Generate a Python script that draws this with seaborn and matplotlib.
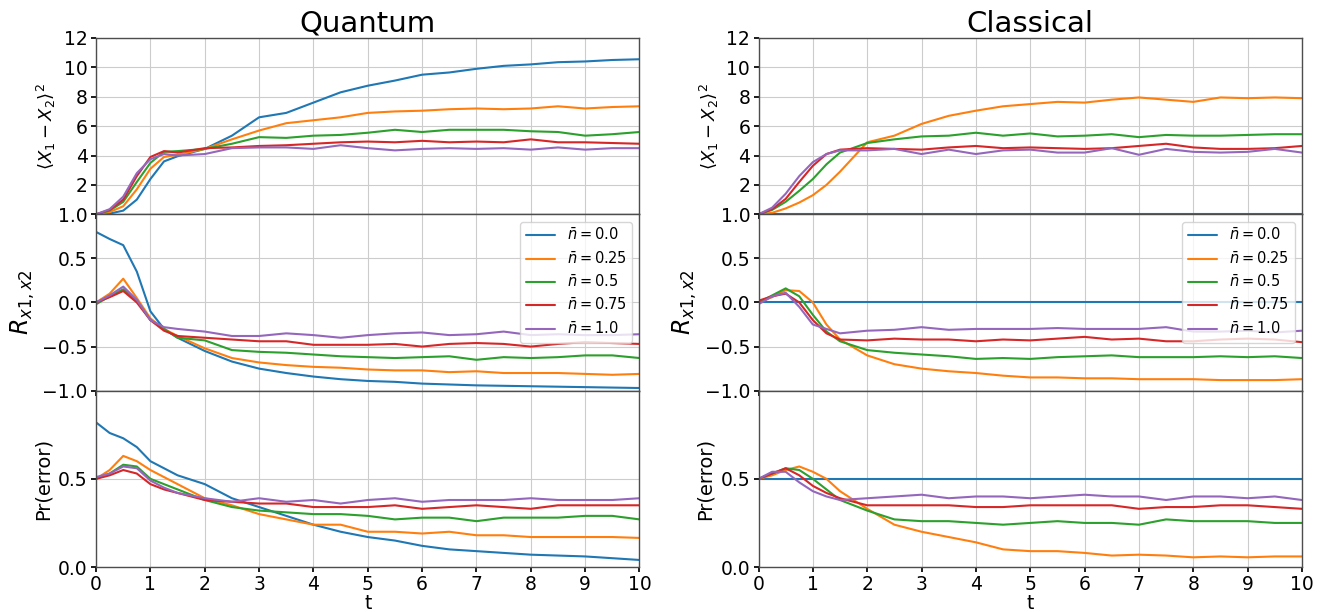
import matplotlib
matplotlib.use("Agg")
import matplotlib.pyplot as plt
import pandas as pd
import seaborn as sns

t = [0, 0.25, 0.5, 0.75, 1, 1.25, 1.5, 2, 2.5, 3, 3.5, 4, 4.5, 5, 5.5, 6, 6.5, 7, 7.5, 8, 8.5, 9, 9.5, 10]
n_bar = ["0.0", "0.25", "0.5", "0.75", "1.0"]

# Quantum: <(X1 - X2)^2>
q_var_n0 = [0, 0.05, 0.25, 1.0, 2.4, 3.6, 3.95, 4.45, 5.35, 6.6, 6.9, 7.6, 8.3, 8.75, 9.1, 9.5, 9.65, 9.9, 10.1, 10.2, 10.35, 10.4, 10.5, 10.55]
q_var_n025 = [0, 0.15, 0.55, 1.7, 3.1, 3.9, 4.05, 4.45, 5.1, 5.7, 6.2, 6.4, 6.6, 6.9, 7.0, 7.05, 7.15, 7.2, 7.15, 7.2, 7.35, 7.2, 7.3, 7.35]
q_var_n05 = [0, 0.25, 0.85, 2.2, 3.5, 4.25, 4.3, 4.45, 4.8, 5.25, 5.2, 5.35, 5.4, 5.55, 5.75, 5.6, 5.75, 5.75, 5.75, 5.65, 5.6, 5.35, 5.45, 5.6]
q_var_n075 = [0, 0.3, 1.0, 2.6, 3.9, 4.3, 4.2, 4.5, 4.55, 4.65, 4.7, 4.8, 4.9, 4.95, 4.9, 5.0, 4.9, 4.95, 4.9, 5.1, 4.9, 4.9, 4.85, 4.8]
q_var_n1 = [0, 0.35, 1.2, 2.8, 3.75, 4.1, 4.0, 4.1, 4.5, 4.55, 4.55, 4.45, 4.7, 4.5, 4.35, 4.45, 4.5, 4.45, 4.5, 4.4, 4.55, 4.4, 4.5, 4.5]

# Quantum: R_{x1,x2}
q_corr_n0 = [0.8, 0.72, 0.65, 0.35, -0.1, -0.3, -0.4, -0.55, -0.67, -0.75, -0.8, -0.84, -0.87, -0.89, -0.9, -0.92, -0.93, -0.94, -0.945, -0.95, -0.955, -0.96, -0.965, -0.97]
q_corr_n025 = [0.0, 0.1, 0.27, 0.05, -0.18, -0.3, -0.38, -0.52, -0.63, -0.68, -0.71, -0.73, -0.74, -0.76, -0.77, -0.77, -0.79, -0.78, -0.8, -0.8, -0.8, -0.81, -0.82, -0.81]
q_corr_n05 = [-0.02, 0.07, 0.15, 0.02, -0.2, -0.3, -0.4, -0.43, -0.54, -0.56, -0.57, -0.59, -0.61, -0.62, -0.63, -0.62, -0.61, -0.65, -0.62, -0.63, -0.62, -0.6, -0.6, -0.63]
q_corr_n075 = [0.0, 0.06, 0.13, 0.0, -0.2, -0.32, -0.38, -0.4, -0.42, -0.44, -0.44, -0.48, -0.48, -0.48, -0.47, -0.5, -0.47, -0.46, -0.47, -0.5, -0.47, -0.45, -0.46, -0.47]
q_corr_n1 = [0.0, 0.08, 0.18, 0.03, -0.2, -0.28, -0.3, -0.33, -0.38, -0.38, -0.35, -0.37, -0.4, -0.37, -0.35, -0.34, -0.37, -0.36, -0.33, -0.37, -0.36, -0.37, -0.37, -0.36]

# Quantum: Pr(error)
q_err_n0 = [0.82, 0.76, 0.73, 0.68, 0.6, 0.56, 0.52, 0.47, 0.39, 0.34, 0.29, 0.24, 0.2, 0.17, 0.15, 0.12, 0.1, 0.09, 0.08, 0.07, 0.065, 0.06, 0.05, 0.04]
q_err_n025 = [0.5, 0.55, 0.63, 0.6, 0.55, 0.51, 0.47, 0.39, 0.35, 0.3, 0.27, 0.24, 0.24, 0.2, 0.2, 0.19, 0.2, 0.18, 0.18, 0.17, 0.17, 0.17, 0.17, 0.165]
q_err_n05 = [0.5, 0.53, 0.58, 0.57, 0.5, 0.47, 0.44, 0.38, 0.34, 0.32, 0.31, 0.3, 0.3, 0.29, 0.27, 0.28, 0.28, 0.26, 0.28, 0.28, 0.28, 0.29, 0.29, 0.27]
q_err_n075 = [0.5, 0.52, 0.55, 0.53, 0.47, 0.44, 0.42, 0.38, 0.37, 0.36, 0.36, 0.34, 0.34, 0.34, 0.35, 0.33, 0.34, 0.35, 0.34, 0.33, 0.35, 0.35, 0.35, 0.35]
q_err_n1 = [0.51, 0.53, 0.57, 0.56, 0.49, 0.45, 0.42, 0.39, 0.37, 0.39, 0.37, 0.38, 0.36, 0.38, 0.39, 0.37, 0.38, 0.38, 0.38, 0.39, 0.38, 0.38, 0.38, 0.39]

# Classical: <(X1 - X2)^2>
c_var_n0 = [0.0] * 24
c_var_n025 = [0, 0.1, 0.4, 0.8, 1.3, 2.0, 2.9, 4.9, 5.35, 6.15, 6.7, 7.05, 7.35, 7.5, 7.65, 7.6, 7.8, 7.95, 7.8, 7.65, 7.95, 7.9, 7.95, 7.9]
c_var_n05 = [0, 0.3, 0.85, 1.6, 2.4, 3.4, 4.2, 4.85, 5.1, 5.3, 5.35, 5.55, 5.35, 5.5, 5.3, 5.35, 5.45, 5.25, 5.4, 5.35, 5.35, 5.4, 5.45, 5.45]
c_var_n075 = [0, 0.35, 1.05, 2.2, 3.3, 4.1, 4.4, 4.5, 4.45, 4.4, 4.55, 4.65, 4.5, 4.55, 4.5, 4.45, 4.5, 4.65, 4.8, 4.55, 4.45, 4.45, 4.5, 4.65]
c_var_n1 = [0, 0.45, 1.4, 2.6, 3.55, 4.1, 4.35, 4.35, 4.45, 4.1, 4.4, 4.1, 4.35, 4.4, 4.2, 4.2, 4.5, 4.05, 4.45, 4.25, 4.2, 4.25, 4.45, 4.2]

# Classical: R_{x1,x2}
c_corr_n0 = [0.0] * 24
c_corr_n025 = [0.0, 0.06, 0.14, 0.13, 0.0, -0.25, -0.42, -0.6, -0.7, -0.75, -0.78, -0.8, -0.83, -0.85, -0.85, -0.86, -0.86, -0.87, -0.87, -0.87, -0.88, -0.88, -0.88, -0.87]
c_corr_n05 = [0.0, 0.08, 0.16, 0.07, -0.14, -0.33, -0.44, -0.54, -0.57, -0.59, -0.61, -0.64, -0.63, -0.64, -0.62, -0.61, -0.6, -0.62, -0.62, -0.62, -0.61, -0.62, -0.61, -0.63]
c_corr_n075 = [0.02, 0.07, 0.1, 0.0, -0.2, -0.35, -0.42, -0.43, -0.41, -0.42, -0.42, -0.44, -0.42, -0.43, -0.41, -0.39, -0.42, -0.41, -0.44, -0.44, -0.42, -0.41, -0.42, -0.45]
c_corr_n1 = [-0.02, 0.07, 0.11, -0.05, -0.25, -0.3, -0.35, -0.32, -0.31, -0.28, -0.31, -0.3, -0.3, -0.3, -0.29, -0.3, -0.3, -0.3, -0.28, -0.33, -0.33, -0.32, -0.34, -0.32]

# Classical: Pr(error)
c_err_n0 = [0.5] * 24
c_err_n025 = [0.5, 0.52, 0.55, 0.57, 0.54, 0.5, 0.43, 0.33, 0.24, 0.2, 0.17, 0.14, 0.1, 0.09, 0.09, 0.08, 0.065, 0.07, 0.065, 0.055, 0.06, 0.055, 0.06, 0.06]
c_err_n05 = [0.5, 0.53, 0.56, 0.55, 0.5, 0.44, 0.38, 0.32, 0.27, 0.26, 0.26, 0.25, 0.24, 0.25, 0.26, 0.25, 0.25, 0.24, 0.27, 0.26, 0.26, 0.26, 0.25, 0.25]
c_err_n075 = [0.5, 0.53, 0.56, 0.52, 0.46, 0.42, 0.39, 0.35, 0.35, 0.35, 0.35, 0.34, 0.34, 0.35, 0.35, 0.35, 0.35, 0.33, 0.34, 0.34, 0.35, 0.35, 0.34, 0.33]
c_err_n1 = [0.5, 0.54, 0.54, 0.48, 0.43, 0.4, 0.38, 0.39, 0.4, 0.41, 0.39, 0.4, 0.4, 0.39, 0.4, 0.41, 0.4, 0.4, 0.38, 0.4, 0.4, 0.39, 0.4, 0.38]

panels = {
    ("Quantum", "var"): [q_var_n0, q_var_n025, q_var_n05, q_var_n075, q_var_n1],
    ("Quantum", "corr"): [q_corr_n0, q_corr_n025, q_corr_n05, q_corr_n075, q_corr_n1],
    ("Quantum", "err"): [q_err_n0, q_err_n025, q_err_n05, q_err_n075, q_err_n1],
    ("Classical", "var"): [c_var_n0, c_var_n025, c_var_n05, c_var_n075, c_var_n1],
    ("Classical", "corr"): [c_corr_n0, c_corr_n025, c_corr_n05, c_corr_n075, c_corr_n1],
    ("Classical", "err"): [c_err_n0, c_err_n025, c_err_n05, c_err_n075, c_err_n1],
}


def long_frame(series_list):
    rows = []
    for label, values in zip(n_bar, series_list):
        for ti, v in zip(t, values):
            rows.append({"t": ti, "value": v, "nbar": label})
    return pd.DataFrame(rows)


sns.set_theme(style="white")
plt.rcParams.update({
    "axes.edgecolor": "0.3",
    "axes.linewidth": 1.0,
    "axes.labelcolor": "black",
    "text.color": "black",
    "xtick.bottom": True,
    "ytick.left": True,
    "xtick.major.size": 3.5,
    "ytick.major.size": 3.5,
    "xtick.color": "black",
    "ytick.color": "black",
})
plt.rcParams["font.family"] = ["DejaVu Sans"]

palette = sns.color_palette("tab10", 5)

fig, axes = plt.subplots(3, 2, figsize=(13.25, 6.12), dpi=100, sharex=True,
                         gridspec_kw=dict(hspace=0, wspace=0.219))
fig.subplots_adjust(left=0.0725, right=0.9826, top=0.938, bottom=0.0735)

rows = ["var", "corr", "err"]
cols = ["Quantum", "Classical"]
for j, col in enumerate(cols):
    for i, row in enumerate(rows):
        ax = axes[i, j]
        df = long_frame(panels[(col, row)])
        sns.lineplot(data=df, x="t", y="value", hue="nbar", hue_order=n_bar,
                     palette=palette, estimator=None, linewidth=1.5,
                     legend=False, ax=ax)
        ax.grid(True, color="0.8", linewidth=0.8)
        ax.set_xlim(0, 10)
        ax.set_xticks(range(0, 11))
        ax.tick_params(labelsize=13.5, pad=2.5)
        ax.set_xlabel("")
        if row == "var":
            ax.set_ylim(0, 12)
            ax.set_yticks([2, 4, 6, 8, 10, 12])
            ax.set_ylabel(r"$\langle X_1 - X_2\rangle^2$", fontsize=13)
            ax.set_title(col, fontsize=21, pad=4)
        elif row == "corr":
            ax.set_ylim(-1, 1)
            ax.set_yticks([-1.0, -0.5, 0.0, 0.5, 1.0])
            ax.set_ylabel(r"$R_{x1,x2}$", fontsize=17)
            ax.legend(ax.lines[:5], [rf"$\bar{{n}}={n}$" for n in n_bar],
                      loc="upper right", fontsize=10.5)
        else:
            ax.set_ylim(0, 1)
            ax.set_yticks([0.0, 0.5])
            ax.set_ylabel("Pr(error)", fontsize=14)
            ax.set_xlabel("t", fontsize=13.5, labelpad=0)

fig.savefig("out.png", dpi=100)
plt.close(fig)
